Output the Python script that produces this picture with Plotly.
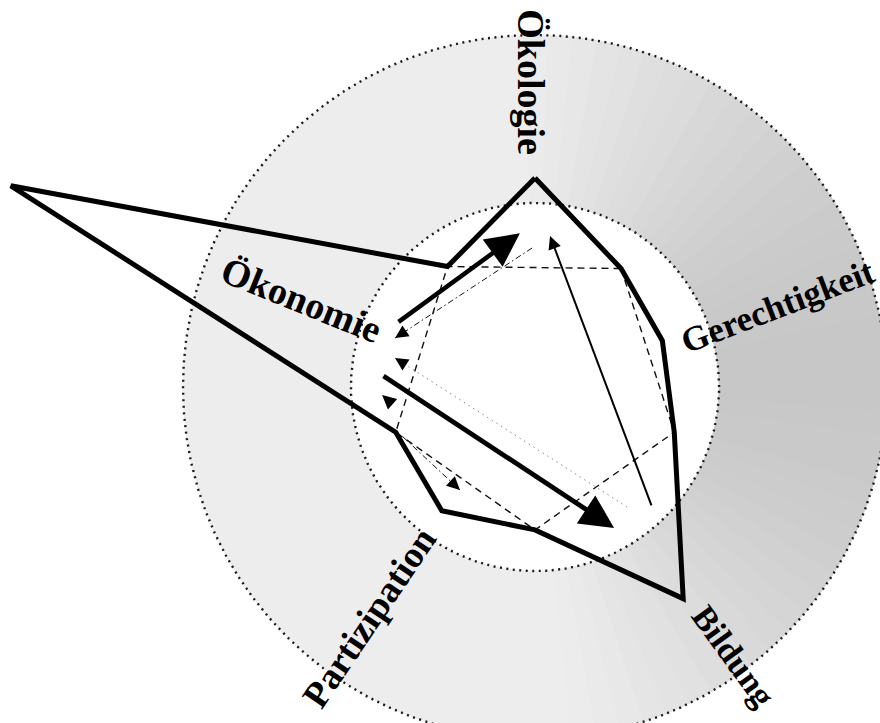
import numpy as np
import plotly.graph_objects as go

# ---------------- data ----------------
# scale: outer dotted circle = 100
dimensions = ["Ökologie", "Gerechtigkeit", "Bildung", "Partizipation", "Ökonomie"]
dim_angle = [90, 20, -55, -127, 159]              # direction of each dimension (deg)
profile_value = [59.4, 38.5, 73.4, 44.0, 159.5]   # thick profile on each dimension
between_angle = [54, -18, -90, -162, 126]         # directions between dimensions
base_value = [41.6, 41.6, 40.6, 41.6, 42.3]       # dashed pentagon / profile between dimensions
inner_ring = 52.3
outer_ring = 100.0

# arrows between dimensions (polar: radius, angle)
arrow_from_r = [43.2, 43.6, 47.6, 39.5, 43.0, 40.6, 40.1]
arrow_from_th = [155.1, 175.5, -45.7, 91.2, -52.5, -90.0, -159.3]
arrow_to_r = [43.9, 45.9, 43.1, 42.1, 40.6, 43.5, 36.2]
arrow_to_th = [95.6, -60.7, 84.3, 160.7, 168.3, -177.0, -126.1]

# ---------------- styles / layout ----------------
arrow_width = [4.5, 4.8, 2.0, 1.0, 1.0, 1.0, 1.0]
arrow_size = [1.5, 1.4, 1.3, 2.6, 2.6, 2.8, 2.6]
arrow_line = ["solid", "solid", "solid", "dashdot", "faint", "none", "dashdot"]

label_r = [86.5, 72.6, 94.8, 80.6, 70.7]
label_th = [90.7, 18.3, -53.6, -125.8, 159.5]
label_rot = [90, -21, 54, -56, 22]
label_size = [38, 35, 34, 37, 38]

S = 3.52            # pixels per unit
W, H = 880, 723
CX, CY = 535, 387   # centre of the diagram in pixels


def xy(r, th):
    t = np.radians(np.asarray(th, dtype=float))
    return np.asarray(r, dtype=float) * np.cos(t), np.asarray(r, dtype=float) * np.sin(t)


fig = go.Figure()

# shaded ring between the two dotted circles (darker towards the right)
n = 90
edges = np.linspace(0, 360, n + 1)
for a0, a1 in zip(edges[:-1], edges[1:]):
    tt = np.linspace(a0, a1, 6)
    ox, oy = xy(outer_ring, tt)
    ix, iy = xy(inner_ring, tt[::-1])
    mid = (a0 + a1) / 2
    w = max(0.0, np.cos(np.radians(mid - 5)))
    g = int(round(237 - 38 * w ** 1.2))
    col = f"rgb({g},{g},{g})"
    fig.add_trace(go.Scatter(
        x=np.r_[ox, ix, ox[0]], y=np.r_[oy, iy, oy[0]],
        mode="lines", fill="toself", fillcolor=col,
        line=dict(color=col, width=0.8), hoverinfo="skip", showlegend=False))

# dotted circles
tt = np.linspace(0, 360, 721)
for rr in (inner_ring, outer_ring):
    cx_, cy_ = xy(rr, tt)
    fig.add_trace(go.Scatter(x=cx_, y=cy_, mode="lines",
                             line=dict(color="#1a1a1a", width=2.4, dash="2px,4.5px"),
                             hoverinfo="skip", showlegend=False))

# dashed pentagon
px_, py_ = xy(base_value + base_value[:1], between_angle + between_angle[:1])
fig.add_trace(go.Scatter(x=px_, y=py_, mode="lines",
                         line=dict(color="#111", width=1.4, dash="7px,5px"),
                         hoverinfo="skip", showlegend=False))

# thin (dashed / dotted) arrow shafts
fx, fy = xy(arrow_from_r, arrow_from_th)
tx, ty = xy(arrow_to_r, arrow_to_th)
for i, style in enumerate(arrow_line):
    if style == "dashdot":
        fig.add_trace(go.Scatter(x=[fx[i], tx[i]], y=[fy[i], ty[i]], mode="lines",
                                 line=dict(color="#111", width=1.0, dash="6px,3px,1.5px,3px"),
                                 hoverinfo="skip", showlegend=False))
    elif style == "faint":
        fig.add_trace(go.Scatter(x=[fx[i], tx[i]], y=[fy[i], ty[i]], mode="lines",
                                 line=dict(color="#888", width=1.0, dash="1.5px,4px"),
                                 hoverinfo="skip", showlegend=False))

# thick profile
prof_r, prof_th = [], []
for k in range(5):
    prof_r += [profile_value[k], base_value[k]]
    prof_th += [dim_angle[k], between_angle[k]]
qx, qy = xy(prof_r + prof_r[:1], prof_th + prof_th[:1])
fig.add_trace(go.Scatter(x=qx, y=qy, mode="lines",
                         line=dict(color="black", width=5),
                         hoverinfo="skip", showlegend=False))

annotations = []
# arrows
for i, style in enumerate(arrow_line):
    if style == "solid":
        sx, sy = fx[i], fy[i]
    else:
        d = np.hypot(tx[i] - fx[i], ty[i] - fy[i])
        sx = tx[i] - (tx[i] - fx[i]) / d * 3.0
        sy = ty[i] - (ty[i] - fy[i]) / d * 3.0
    annotations.append(dict(x=tx[i], y=ty[i], ax=sx, ay=sy, xref="x", yref="y",
                            axref="x", ayref="y", text="", showarrow=True,
                            arrowhead=2, arrowsize=arrow_size[i],
                            arrowwidth=arrow_width[i], arrowcolor="black", standoff=0))

# dimension labels
lx, ly = xy(label_r, label_th)
for i, name in enumerate(dimensions):
    annotations.append(dict(x=lx[i], y=ly[i], xref="x", yref="y", text=f"<b>{name}</b>",
                            showarrow=False, textangle=label_rot[i],
                            xanchor="center", yanchor="middle",
                            font=dict(family="Liberation Serif", size=label_size[i],
                                      color="black")))

fig.update_layout(
    width=W, height=H, autosize=False,
    margin=dict(l=0, r=0, t=0, b=0, pad=0),
    paper_bgcolor="white", plot_bgcolor="white",
    xaxis=dict(range=[-CX / S, (W - CX) / S], visible=False, fixedrange=True),
    yaxis=dict(range=[-(H - CY) / S, CY / S], visible=False, fixedrange=True),
    annotations=annotations, showlegend=False,
)

fig.write_html("out.html", config={"displayModeBar": False, "staticPlot": True},
               post_script="document.body.style.margin='0px';document.body.style.overflow='hidden';")
